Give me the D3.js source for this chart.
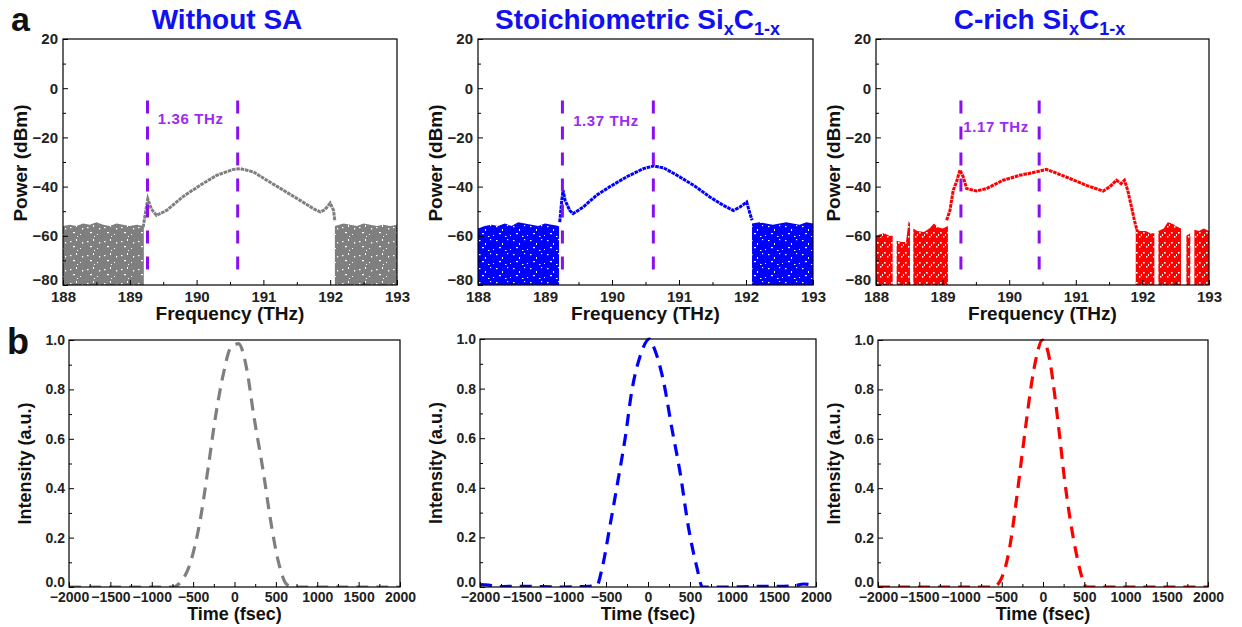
<!DOCTYPE html>
<html><head><meta charset="utf-8">
<script src="https://cdn.jsdelivr.net/npm/d3@7/dist/d3.min.js"></script>
<style>
html,body{margin:0;padding:0;background:#fff;}
svg text{font-family:Arial,"Liberation Sans",sans-serif;font-weight:bold;}
</style></head>
<body><svg id="chart" width="1242" height="627"></svg>
<script>
// ---------------- data ----------------
const freqTicks = [188, 189, 190, 191, 192, 193];
const powerTicks = [20, 0, -20, -40, -60, -80];
const timeTicks = [-2000, -1500, -1000, -500, 0, 500, 1000, 1500, 2000];
const intensityTicks = [0.0, 0.2, 0.4, 0.6, 0.8, 1.0];

const titles = ["Without SA", "Stoichiometric", "C-rich"];
const widthLabels = ["1.36 THz", "1.37 THz", "1.17 THz"];

// spectrum signal (frequency THz, power dBm)
const sigWithoutF = [189.2, 189.25, 189.27, 189.32, 189.4, 189.55, 189.8, 190.05, 190.3, 190.55, 190.65, 190.85, 191.05, 191.3, 191.55, 191.75, 191.85, 191.92, 192.0, 192.05, 192.07];
const sigWithoutP = [-56.5, -48, -45, -49, -51.7, -49.7, -44, -39.5, -35.4, -33, -32.7, -34, -37.4, -41.5, -45.6, -49, -50.3, -49.4, -46.7, -49.7, -54];
const sigStoichF = [189.22, 189.25, 189.27, 189.3, 189.37, 189.42, 189.57, 189.77, 189.97, 190.22, 190.47, 190.62, 190.77, 190.97, 191.22, 191.46, 191.66, 191.81, 191.91, 192.01, 192.06, 192.09];
const sigStoichP = [-54.4, -45.6, -41.5, -45.6, -49.7, -51, -48.3, -43.5, -40, -36, -32.7, -31.6, -32.4, -35.4, -39.5, -44.2, -47.6, -49.7, -48.3, -46.3, -51, -53.7];
const sigCrichF = [189.06, 189.11, 189.13, 189.16, 189.21, 189.26, 189.31, 189.36, 189.51, 189.66, 189.91, 190.16, 190.41, 190.56, 190.66, 190.91, 191.16, 191.41, 191.51, 191.61, 191.68, 191.73, 191.78, 191.83, 191.88, 191.92];
const sigCrichP = [-53.7, -49.7, -46.3, -41.5, -38, -33.3, -36, -40.8, -41.8, -40.8, -37.4, -35.4, -34, -33, -34, -36.7, -39.5, -41.8, -40.1, -37.4, -38.8, -37.4, -41.5, -47.6, -53.7, -57.8];

// noise floor upper envelope (frequency THz, top dBm; null = gap)
const noiseWithoutF = [188.0, 188.1, 188.2, 188.3, 188.4, 188.5, 188.6, 188.7, 188.8, 188.9, 189.0, 189.1, 189.21, null, 192.07, 192.2, 192.3, 192.4, 192.5, 192.6, 192.7, 192.8, 192.9, 193.0];
const noiseWithoutP = [-56, -55.5, -56, -55, -55.5, -54.5, -55.5, -56, -55, -55.5, -56, -55.5, -56, null, -56, -55, -55.5, -56, -55, -55.5, -56, -55.5, -56, -55.5];
const noiseStoichF = [188.0, 188.1, 188.2, 188.3, 188.4, 188.5, 188.6, 188.7, 188.8, 188.9, 189.0, 189.1, 189.21, null, 192.09, 192.2, 192.3, 192.4, 192.5, 192.6, 192.7, 192.8, 192.9, 193.0];
const noiseStoichP = [-57, -56, -55.5, -56, -55, -56, -54.5, -55, -55.5, -56, -55, -55.5, -56, null, -55, -54.5, -55, -55.5, -55, -54.5, -55, -55.5, -54.5, -55];
const noiseCrichF = [188.0, 188.05, 188.12, 188.2, 188.25, 188.28, 188.31, 188.38, 188.45, 188.49, 188.51, 188.53, 188.56, 188.62, 188.72, 188.8, 188.87, 188.93, 189.0, 189.08, null,
                     191.9, 191.96, 192.05, 192.12, 192.18, 192.21, 192.24, 192.32, 192.38, 192.45, 192.5, 192.58, 192.62, 192.66, 192.72, 192.75, 192.78, 192.85, 192.92, 193.0];
const noiseCrichP = [-60, -59.5, -59, -60, -60, null, -62, -62.5, -62.5, -54, -55, null, -57, -58, -58.5, -57, -55, -56.5, -57, -56, null,
                     -57, -58, -58, -59, -59, null, -58, -57, -54.5, -55, -56, -57, null, -60, -59, null, -57.5, -58, -57, -58];

// FWHM marker positions (THz)
const markWithout = [189.265, 190.615];
const markStoich = [189.26, 190.617];
const markCrich = [189.275, 190.45];
const markRange = [-5, -77];
const labelPos = [[189.42, -14.5], [189.42, -15.2], [189.31, -17.8]];

// autocorrelation pulses (time fs, intensity a.u.)
const pulseWithoutT = [-2000, -1000, -750, -650, -536, -415, -315, -234, -133, -52, 0, 48, 149, 230, 351, 431, 532, 633, 714, 1000, 2000];
const pulseWithoutI = [0, 0, 0, 0.02, 0.095, 0.27, 0.49, 0.68, 0.865, 0.966, 0.98, 0.985, 0.88, 0.7, 0.46, 0.28, 0.1, 0.01, 0, 0, 0];
const pulseStoichT = [-2000, -1900, -1800, -1650, -1550, -1000, -700, -610, -550, -451, -352, -272, -193, -94, 17, 65, 184, 284, 383, 482, 581, 649, 1000, 1450, 1550, 1750, 1850, 1950, 2000];
const pulseStoichI = [0.01, 0.008, 0, 0.003, 0.003, 0, 0.003, 0.005, 0.07, 0.25, 0.44, 0.6, 0.79, 0.93, 1.0, 0.97, 0.83, 0.64, 0.46, 0.24, 0.08, 0, 0, 0.003, 0.003, 0.005, 0.012, 0.008, 0];
const pulseCrichT = [-2000, -600, -505, -404, -323, -263, -202, -141, -81, -8, 81, 141, 202, 263, 331, 404, 485, 525, 2000];
const pulseCrichI = [0, 0, 0.034, 0.16, 0.35, 0.51, 0.67, 0.82, 0.93, 1.0, 0.92, 0.78, 0.61, 0.43, 0.27, 0.135, 0.027, 0, 0];

const colors = ["#7f7f7f", "#0000ff", "#ff0000"];
const titleColor = "#1010f0";
const markColor = "#8a10f0";

// ---------------- drawing ----------------
const svg = d3.select("#chart");
const defs = svg.append("defs");

function makePattern(id, color, w, h, specks) {
  const p = defs.append("pattern").attr("id", id).attr("patternUnits", "userSpaceOnUse")
    .attr("width", w).attr("height", h);
  p.append("rect").attr("width", w).attr("height", h).attr("fill", color);
  specks.forEach(s => p.append("rect").attr("x", s[0]).attr("y", s[1]).attr("width", s[2]).attr("height", s[3]).attr("fill", "#fff"));
}
makePattern("nz0", colors[0], 17, 14, [[2, 3, 1.5, 1.2], [8, 1, 1, 2], [5, 8, 2, 1.2], [12, 10, 1, 1], [14, 4, 1.2, 1.5], [9, 12, 1, 1]]);
makePattern("nz1", colors[1], 17, 14, [[3, 2, 1.5, 1.2], [9, 5, 1, 2], [6, 9, 2, 1.2], [0, 11, 1, 1], [14, 1, 1.2, 1.2], [12, 12, 1.5, 1]]);
makePattern("nz2", colors[2], 7, 10, [[2, 2, 1.6, 1.6], [5, 6, 1.4, 1.6], [0, 4, 1, 2]]);

const topFrames = [[63, 397], [478, 813], [876, 1209]];
const topY = [39, 285];
const botFrames = [[69, 400, 340], [480, 816, 339], [878, 1208, 340]];
const botYb = 587;

const specSets = [
  {sf: sigWithoutF, sp: sigWithoutP, nf: noiseWithoutF, np: noiseWithoutP, mk: markWithout},
  {sf: sigStoichF, sp: sigStoichP, nf: noiseStoichF, np: noiseStoichP, mk: markStoich},
  {sf: sigCrichF, sp: sigCrichP, nf: noiseCrichF, np: noiseCrichP, mk: markCrich}
];
const pulseSets = [
  {t: pulseWithoutT, v: pulseWithoutI},
  {t: pulseStoichT, v: pulseStoichI},
  {t: pulseCrichT, v: pulseCrichI}
];

function minorVals(ticks) {
  const out = [];
  for (let i = 0; i < ticks.length - 1; i++) out.push((ticks[i] + ticks[i + 1]) / 2);
  return out;
}

function styleAxis(g, fs) {
  g.select(".domain").remove();
  g.selectAll("line").attr("stroke", "#000").attr("stroke-width", 1);
  g.selectAll("text").attr("fill", "#222").style("font-size", fs + "px");
}

// top panels
specSets.forEach((s, i) => {
  const [x0, x1] = topFrames[i];
  const x = d3.scaleLinear().domain([188, 193]).range([x0, x1]);
  const y = d3.scaleLinear().domain([-80, 20]).range([topY[1], topY[0]]);
  const g = svg.append("g");
  const clipId = "clipT" + i;
  defs.append("clipPath").attr("id", clipId).append("rect")
    .attr("x", x0).attr("y", topY[0]).attr("width", x1 - x0).attr("height", topY[1] - topY[0]);
  const plot = g.append("g").attr("clip-path", `url(#${clipId})`);

  // noise
  const noise = s.nf.map((f, k) => [f, s.np[k]]);
  plot.append("path").datum(noise)
    .attr("d", d3.area().defined(d => d[0] != null && d[1] != null)
      .x(d => x(d[0])).y0(y(-80)).y1(d => y(d[1])))
    .attr("fill", `url(#nz${i})`);
  // signal
  const sig = s.sf.map((f, k) => [f, s.sp[k]]);
  plot.append("path").datum(sig)
    .attr("d", d3.line().x(d => x(d[0])).y(d => y(d[1])))
    .attr("fill", "none").attr("stroke", colors[i]).attr("stroke-width", 3)
    .attr("stroke-dasharray", "3.6,0.8");

  // markers
  s.mk.forEach(m => {
    g.append("line").attr("x1", x(m)).attr("x2", x(m)).attr("y1", y(markRange[0])).attr("y2", y(markRange[1]))
      .attr("stroke", markColor).attr("stroke-width", 3).attr("stroke-dasharray", "13,13");
  });
  g.append("text").attr("x", x(labelPos[i][0])).attr("y", y(labelPos[i][1]))
    .attr("fill", "#9a2cf0").style("font-size", "15px").style("letter-spacing", "0.6px").text(widthLabels[i]);

  // axes
  const ax = g.append("g").attr("transform", `translate(0,${topY[1]})`)
    .call(d3.axisBottom(x).tickValues(freqTicks).tickSize(-5).tickPadding(6).tickFormat(d3.format("d")));
  styleAxis(ax, 15);
  const axm = g.append("g").attr("transform", `translate(0,${topY[1]})`)
    .call(d3.axisBottom(x).tickValues(minorVals(freqTicks)).tickSize(-3).tickFormat(""));
  styleAxis(axm, 15);
  const ay = g.append("g").attr("transform", `translate(${x0},0)`)
    .call(d3.axisLeft(y).tickValues(powerTicks).tickSize(-5).tickPadding(5).tickFormat(d3.format("d")));
  styleAxis(ay, 15);
  ay.selectAll("text").attr("dy", (d) => d === -80 ? "-0.05em" : "0.32em");
  const aym = g.append("g").attr("transform", `translate(${x0},0)`)
    .call(d3.axisLeft(y).tickValues(minorVals(powerTicks)).tickSize(-3).tickFormat(""));
  styleAxis(aym, 15);

  g.append("rect").attr("x", x0).attr("y", topY[0]).attr("width", x1 - x0).attr("height", topY[1] - topY[0])
    .attr("fill", "none").attr("stroke", "#000").attr("stroke-width", 1.2);

  g.append("text").attr("x", (x0 + x1) / 2).attr("y", 320).attr("text-anchor", "middle")
    .attr("fill", "#111").style("font-size", "19px").text("Frequency (THz)");
  g.append("text").attr("transform", `translate(${x0 - 36},${(topY[0] + topY[1]) / 2 + 1}) rotate(-90)`)
    .attr("text-anchor", "middle").attr("fill", "#111").style("font-size", "19px").text("Power (dBm)");

  // title
  const t = svg.append("text").attr("x", (x0 + x1) / 2 - (i === 0 ? 3 : i === 1 ? 8 : 3)).attr("y", 29)
    .attr("text-anchor", "middle").attr("fill", titleColor).style("font-size", "28px");
  if (i === 0) {
    t.text(titles[0]);
  } else {
    t.append("tspan").text(titles[i] + " Si");
    t.append("tspan").attr("dy", 6).style("font-size", "18px").text("x");
    t.append("tspan").attr("dy", -6).text("C");
    t.append("tspan").attr("dy", 6).style("font-size", "18px").text("1-x");
  }
});

// bottom panels
pulseSets.forEach((s, i) => {
  const [x0, x1, yt] = botFrames[i];
  const x = d3.scaleLinear().domain([-2000, 2000]).range([x0, x1]);
  const y = d3.scaleLinear().domain([0, 1]).range([botYb, yt]);
  const g = svg.append("g");
  const clipId = "clipB" + i;
  defs.append("clipPath").attr("id", clipId).append("rect")
    .attr("x", x0).attr("y", yt - 3).attr("width", x1 - x0).attr("height", botYb - yt + 3);

  const pts = s.t.map((t, k) => [t, s.v[k]]);
  g.append("g").attr("clip-path", `url(#${clipId})`).append("path").datum(pts)
    .attr("d", d3.line().curve(d3.curveMonotoneX).x(d => x(d[0])).y(d => y(d[1])))
    .attr("fill", "none").attr("stroke", colors[i]).attr("stroke-width", 3.2)
    .attr("stroke-dasharray", "12,8");

  const ax = g.append("g").attr("transform", `translate(0,${botYb})`)
    .call(d3.axisBottom(x).tickValues(timeTicks).tickSize(-5).tickPadding(5).tickFormat(d3.format("d")));
  styleAxis(ax, 14);
  const axm = g.append("g").attr("transform", `translate(0,${botYb})`)
    .call(d3.axisBottom(x).tickValues(minorVals(timeTicks)).tickSize(-3).tickFormat(""));
  styleAxis(axm, 14);
  const ay = g.append("g").attr("transform", `translate(${x0},0)`)
    .call(d3.axisLeft(y).tickValues(intensityTicks).tickSize(-5).tickPadding(4).tickFormat(d3.format(".1f")));
  styleAxis(ay, 14);
  ay.selectAll("text").attr("dy", (d) => d === 0 ? "-0.05em" : "0.32em");
  const aym = g.append("g").attr("transform", `translate(${x0},0)`)
    .call(d3.axisLeft(y).tickValues(minorVals(intensityTicks)).tickSize(-3).tickFormat(""));
  styleAxis(aym, 14);

  g.append("rect").attr("x", x0).attr("y", yt).attr("width", x1 - x0).attr("height", botYb - yt)
    .attr("fill", "none").attr("stroke", "#000").attr("stroke-width", 1.2);

  g.append("text").attr("x", (x0 + x1) / 2).attr("y", 620).attr("text-anchor", "middle")
    .attr("fill", "#111").style("font-size", "18px").text("Time (fsec)");
  g.append("text").attr("transform", `translate(${x0 - 38},${(yt + botYb) / 2}) rotate(-90)`)
    .attr("text-anchor", "middle").attr("fill", "#111").style("font-size", "18px").text("Intensity (a.u.)");
});

// panel letters
svg.append("text").attr("x", 11).attr("y", 31).attr("fill", "#111").style("font-size", "34px").text("a");
svg.append("text").attr("x", 7).attr("y", 354).attr("fill", "#111").style("font-size", "36px").text("b");
</script>
</body></html>
